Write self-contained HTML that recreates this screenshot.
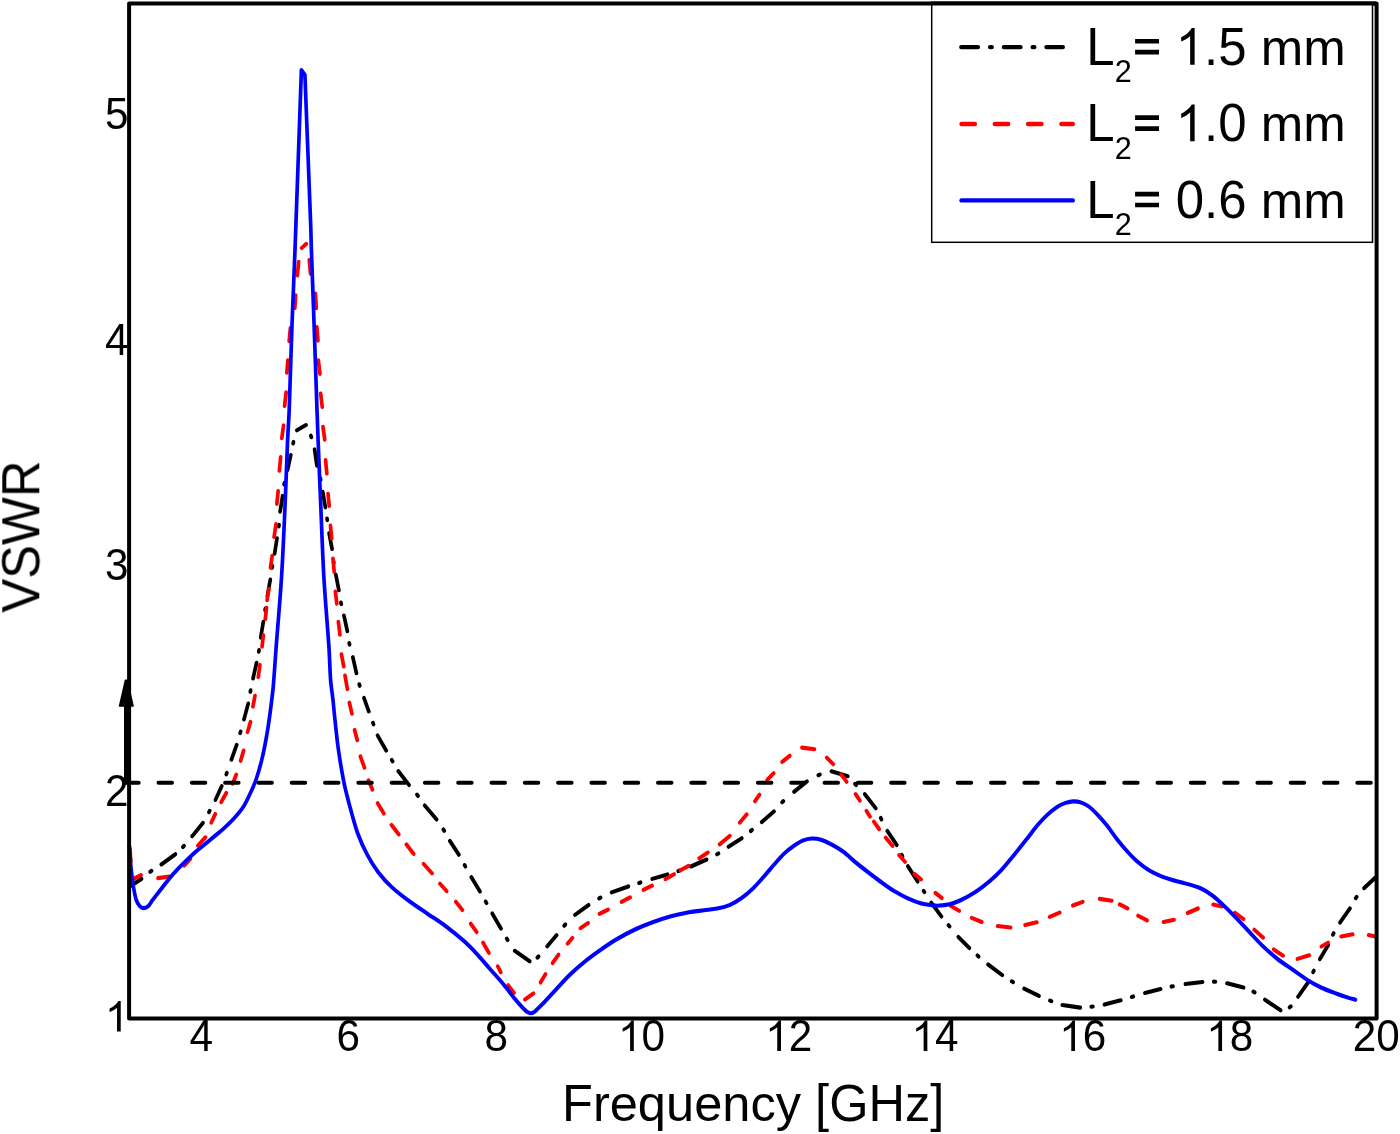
<!DOCTYPE html>
<html><head><meta charset="utf-8"><title>VSWR</title>
<style>
html,body{margin:0;padding:0;background:#fff}
body{width:1400px;height:1134px;overflow:hidden}
svg{display:block}
text{font-family:"Liberation Sans",sans-serif;fill:#000;font-kerning:none}
</style></head><body>
<svg width="1400" height="1134" viewBox="0 0 1400 1134">
<rect width="1400" height="1134" fill="#fff"/>
<g fill="none" stroke-linecap="round" stroke-linejoin="round" stroke-width="4.1">
<g transform="scale(0.9 1)">
<path stroke="#000" d="M143.81 886.72L157.19 878.88M166.95 871.77l1.44 -0.94M179.24 864.49L194.87 854.21M203.28 846.99l1.21 -1.17M213.51 836.25L225.49 822.85M232.13 812.2l0.85 -1.41M239.4 799.84L246.38 786.06M251.47 774.35l0.61 -1.5M257.12 759.71L262.99 744.79M266.87 733.07l0.49 -1.54M271.07 719.48L275.82 703.52M278.17 691.79l0.33 -1.57M281.16 678.47L285.07 662.83M287.52 651.69l0.29 -1.58M289.67 637.56L292.55 621.84M294.53 610.09l0.28 -1.58M297.12 595.97L300.32 579.53M302.41 567.69l0.29 -1.58M305.11 553.76L307.78 538.24M309.79 526.49l0.2 -1.59M311.22 511.66L314 495.94M315.72 484.39l0.33 -1.57M319.48 469.97L323.07 455.03M325.69 443.48l0.41 -1.56M329.92 430.25L339.96 425.05M345.38 435.64l0.57 1.52M349.55 449.44L352.12 465.76M355.91 478.32l0.39 1.56M358.57 491.74L361.55 507.36M363.43 518.51l0.25 1.58M365.69 533.33L368.98 548.97M370.65 561.21l0.25 1.58M373.14 574.63L376.53 590.27M378.83 602.52l0.35 1.57M382.15 615.53L385.96 631.17M388.04 643.02l0.37 1.57M392.04 657.13L396.07 673.27M399.18 684.24l0.52 1.53M404.46 697.89L409.77 711.41M414.36 722.85l0.6 1.51M419.55 735.52L429.11 750.58M435.33 760.01l0.9 1.38M442.61 771.06L454.5 785.04M463.35 794.66l1.08 1.27M471.85 805.43L485.04 819.47M492.64 829.52l0.93 1.36M499.91 840.99L509.86 854.71M516.24 865.1l0.86 1.4M523.67 877.11L533.21 891.49M539.68 901.6l0.87 1.39M547 913.52L556.67 928.58M563.09 938.72l0.92 1.37M571.91 950.8L588.53 961.3M597.11 957.53l1.33 -1.06M607.96 946.37L618.48 935.13M626.96 925.69l1.19 -1.19M638.91 914.89L653.98 905.01M665.67 898.39l1.56 -0.77M679.6 892.34L698.06 886.46M710.04 882.94l1.7 -0.48M724.71 878.87L741.73 874.43M753.6 871.06l1.68 -0.51M767.71 866.5L785.07 859.5M796.67 854.3l1.54 -0.8M809.47 846.82L824.19 838.18M834.2 831l1.38 -1.01M846.34 822.05L859.99 811.45M869.03 802.26l1.27 -1.12M882.35 791.77L896.65 781.43M909.29 775.21l1.64 -0.62M923.83 771.33L941.95 776.17M949.95 783.82l1.22 1.17M960.84 794.05L973.05 808.25M978.6 817.98l0.8 1.43M985.92 830.99L996.41 845.01M1001.92 854.89l0.82 1.42M1008.8 866.2L1019.65 881.5M1026.19 890.83l0.96 1.35M1034.83 902.67L1046.06 916.53M1053.88 925.18l1.14 1.23M1064.87 936.9L1077.02 948.1M1086 955.47l1.34 1.05M1097.91 964.51L1113.65 975.09M1124.13 981.28l1.51 0.85M1137.93 988.71L1154.4 995.89M1166.62 1000.61l1.65 0.59M1180.38 1005.06L1200.28 1007.64M1212.56 1006.7l1.76 -0.2M1227.16 1004.58L1245.28 1000.32M1257.48 996.93l1.7 -0.47M1272.16 992.99L1289.51 989.01M1301.57 986.56l1.74 -0.31M1317.16 984.05L1336.17 981.95M1348.67 981.66l1.78 0.09M1363.38 983.31L1381.73 987.59M1392.56 991.6l1.54 0.79M1405.47 999.69L1422.86 1010.31M1432.86 1007.4l1.39 -1M1442.26 996.72L1453.18 982.68M1459.05 972.11l0.8 -1.43M1466.45 959.19L1475.77 945.21M1481.04 934.61l0.82 -1.42M1488.93 922.52L1499.85 908.48M1506.38 898.16l1.01 -1.32M1515.66 888.13L1528.12 877.57"/>
<path stroke="#f00" d="M144.38 848.65L145.39 861.35M148.71 878.68L156.74 875.12M175.61 878.14L188.06 876.56M204.86 865.68L211.48 858.92M219.86 845.59L228.25 837.31M234.73 822.64L239.16 813.96M245.77 802.17L251.45 792.93M258.48 783.72L262.52 774.58M267.31 760.79L270.69 750.51M274.98 732.09L278.35 721.91M281.02 706.57L283.31 695.73M286.98 677.06L288.79 664.94M291.19 646.66L292.59 635.24M294.75 619.16L296.14 607.74M296.78 600.16L298.78 588.74M300.55 567.66L302.45 555.74M304.55 536.96L306.67 524.14M307.63 503.86L309.04 491.04M310.4 470.75L311.82 457.15M313.1 438.26L315.02 425.44M316.19 405.96L317.92 392.34M318.72 372.75L319.83 360.25M321.29 341.15L322.6 328.15M327.6 308.05L328.51 295.35M330.4 275.45L331.82 261.85M335.22 248.03L340.22 243.87M343.62 260.05L345.04 273.75M350.49 293.55L351.4 308.15M352.06 327.05L353.28 340.65M353.75 360.24L355.47 373.86M356.3 393.44L358.03 407.06M358.87 426.84L360.79 439.66M361.73 460.05L363.15 473.55M364.51 493.85L365.82 505.95M367.18 525.64L368.6 538.46M369.96 558.45L371.38 571.95M372.64 591.54L374.25 603.66M375.97 621.84L377.69 634.76M379.46 654.33L381.87 666.47M383.35 675.53L385.99 689.07M388.16 702.62L391.06 713.78M393.96 729.92L396.93 740.18M400.35 756.29L404.98 767.71M409.38 780.27L413.84 789.53M419.57 803.21L426.55 813.59M434.95 824.95L443.05 834.35M451.5 844.45L459.61 853.85M470.64 863.82L480.03 873.38M488.86 883.62L496.25 891.18M506.51 901.75L513.83 910.05M523.04 923.68L529.62 932.02M536.67 942.62L543.22 952.78M553.08 966.35L556.36 972.25M564.61 985.26L571.05 992.74M583.25 999.41L592.64 993.49M600.67 982.48L606.11 974.22M614.04 963.02L620.52 954.68M630.63 943.57L636.03 937.93M644.92 928.22L653.42 923.08M666.04 913.78L675.63 909.52M690.71 901.78L700.07 897.42M714.93 889.98L724.51 885.72M739.37 879.06L748.96 874.24M756.04 870.26L765.07 865.84M776.92 858.22L786.53 852.58M799.56 844.36L810.88 835.84M821.96 822.67L829.7 814.43M838.82 801.22L843.85 794.68M852.54 779.7L859.57 773.2M869.01 761.87L877.54 755.73M891.05 747.66L904.95 749.24M918.65 757.69L925.9 764.21M934.61 774.46L940.72 781.74M950.59 794.09L955.41 800.61M962.68 810.9L966.65 816.6M971.04 821.68L976.85 829.12M984.07 837.64L991.71 845.96M998.97 855.12L1005.59 861.88M1016.01 874.03L1023.43 879.37M1039.35 893.02L1046.43 897.98M1056.48 905.95L1065.74 910.75M1079.6 917.88L1090.84 922.02M1108.49 926.05L1122.84 927.45M1139.05 925.09L1151.95 922.31M1166.27 916.82L1177.4 912.68M1192.05 905.54L1203.06 901.86M1221.83 898.87L1235.28 900.73M1244.15 904.43L1252.85 908.47M1264.59 915.73L1274.52 920.47M1292.94 922.1L1304.51 919.8M1319.6 913.01L1331.07 908.49M1347.94 904.59L1357.73 906.41M1372.02 912.8L1381.76 919.1M1393.67 929.76L1403.44 937.64M1415.25 949.39L1425.64 955.71M1441.6 958.87L1454.73 955.33M1468.26 946.46L1475.63 942.74M1490.16 936.42L1503.06 934.28M1520.72 935.09L1528.06 936.41"/>
<path stroke="#00f" d="M143.67 845.3C144 849.22 144.93 862.02 145.67 868.8C146.29 874.55 147.17 880.83 148.11 886C148.96 890.64 150.15 896.45 151.33 899.8C152.14 902.09 153.83 904.72 155.22 906.1C156.33 907.21 158.07 908.1 159.67 908.1C161.26 908.1 163.41 907.23 164.78 906.1C166.46 904.72 168.05 901.86 169.78 899.8C172.11 897.02 175.8 892.85 178.78 889.4C181.74 885.97 184.7 882.33 187.67 879.1C190.52 875.98 193.48 872.94 196.56 870C199.74 866.95 203.37 863.77 206.78 860.8C210.13 857.88 213.61 854.9 217 852.2C220.29 849.58 223.73 847.13 227.11 844.6C230.72 841.9 235.19 838.6 238.67 836C241.78 833.67 245.03 831.47 248 829C251.69 825.93 256.96 821.42 260.78 817.6C264.41 813.97 267.98 810.23 270.89 806.1C273.85 801.9 276.22 796.98 278.56 792.4C280.86 787.88 283.14 783.32 284.89 778.6C287.02 772.87 289.49 764.94 291.33 758C293.26 750.73 294.96 742.65 296.44 735C297.92 727.4 299.09 719.75 300.22 712.1C301.41 704.1 302.7 695.39 303.56 687C304.67 676.05 305.75 659.93 306.89 646.4C308.43 628.17 311.17 600.53 312.78 577.6C314.39 554.68 315.43 531.73 316.56 508.8C317.68 485.87 318.76 456.47 319.56 440C320.04 430 320.91 420.01 321.33 410C322.15 390.83 323.37 351.67 324.44 325C325.45 300 326.75 275 327.78 250C329.52 207.5 334.89 70 334.89 70C334.89 70 338.78 74.7 338.78 74.7C338.78 74.7 344.02 195.78 345.22 225C345.57 233.33 345.69 241.67 346 250C346.63 266.67 348.03 300 349 325C350.04 351.67 351.48 390.83 352.22 410C352.61 420 353.01 430 353.44 440C354.17 456.47 355.48 485.87 356.56 508.8C357.63 531.73 358.41 554.68 359.89 577.6C361.37 600.53 364.2 629.33 365.44 646.4C366.26 657.59 366.57 671.07 367.33 680C367.9 686.69 369.3 694.27 370 700C370.59 704.79 370.98 709.61 371.56 714.4C372.54 722.53 374.1 737.37 375.89 748.8C377.69 760.27 379.98 772.88 382.33 783.2C384.44 792.46 387.46 802.3 390 810.7C392.32 818.38 394.59 826.33 397.56 833.6C400.45 840.69 403.94 847.8 407.78 854.3C411.53 860.66 415.89 867.07 420.56 872.6C425.09 877.97 430.28 882.91 435.78 887.5C441.5 892.28 448.33 896.92 454.89 901.3C461.48 905.7 468.54 909.7 475.33 913.9C482.12 918.09 489.09 922.05 495.67 926.5C502.39 931.05 509.93 936.58 515.67 941.2C520.74 945.28 525.47 949.72 530.11 954.2C534.93 958.85 539.74 964.15 544.56 969.1C549.36 974.04 554.52 979.05 559 983.9C563.3 988.56 568.41 994.8 571.44 998.2C573.3 1000.28 575.33 1002.4 577.22 1004.3C579.02 1006.11 581.24 1008.27 582.78 1009.6C583.91 1010.59 585.28 1011.68 586.44 1012.3C587.45 1012.83 588.67 1013.3 589.78 1013.3C590.89 1013.3 592.12 1012.86 593.11 1012.3C594.26 1011.65 595.51 1010.4 596.67 1009.4C598.56 1007.77 601.93 1004.87 604.44 1002.5C607.8 999.33 612.63 994.4 616.78 990.4C621.59 985.75 627.83 979.4 633.33 974.6C638.57 970.03 644.28 965.62 649.78 961.6C655.12 957.7 660.7 954.06 666.33 950.5C672.19 946.8 678.51 942.82 684.89 939.4C691.43 935.9 698.96 932.32 705.56 929.5C711.71 926.87 718.05 924.61 724.44 922.5C731.11 920.3 738.7 918 745.56 916.3C752.14 914.67 759.44 913.3 765.56 912.3C771.07 911.4 777.02 910.92 782.22 910.3C787.07 909.73 791.99 909.51 796.78 908.6C801.61 907.68 806.74 906.52 811.22 904.8C815.64 903.11 819.75 900.8 823.67 898.3C827.8 895.67 832.13 892.34 836 889C840.13 885.43 844.39 881.01 848.44 876.9C852.57 872.72 857 867.77 860.78 863.9C864.15 860.44 867.67 856.63 871.11 853.7C874.31 850.98 878 848.47 881.44 846.3C884.74 844.23 888.35 842 891.78 840.7C895.01 839.48 898.57 838.65 902 838.5C905.43 838.35 909.01 838.88 912.33 839.8C916.13 840.85 920.78 842.86 924.78 844.8C928.91 846.8 933.23 849.16 937.11 851.8C941.57 854.83 946.74 859.43 951.56 863C956.28 866.5 961.19 869.87 966 873.2C970.78 876.51 975.63 879.9 980.44 883C985.17 886.04 990.07 889.2 994.89 891.8C999.55 894.32 1004.52 896.65 1009.33 898.6C1014.03 900.5 1019.3 902.38 1023.78 903.5C1027.83 904.51 1033.24 904.93 1036.22 905.3C1038.03 905.52 1039.85 905.81 1041.67 905.7C1044.8 905.52 1050.83 905.07 1055 904.2C1059.02 903.36 1062.94 902.08 1066.67 900.5C1071.39 898.5 1078.03 895.34 1083.33 892.2C1088.89 888.92 1095.11 884.5 1100 880.8C1104.45 877.43 1108.73 873.85 1112.67 870C1117.43 865.35 1123.8 858.13 1128.56 852.9C1132.85 848.18 1137.26 843.13 1141.22 838.6C1144.96 834.32 1148.63 829.63 1152.33 825.7C1155.84 821.98 1159.74 818.13 1163.44 815C1166.92 812.06 1171.11 808.92 1174.56 806.9C1177.5 805.18 1181.13 803.82 1184.11 802.9C1186.79 802.08 1189.61 801.45 1192.44 801.4C1195.35 801.35 1198.7 801.77 1201.56 802.6C1204.41 803.43 1207.14 804.78 1209.56 806.4C1212.46 808.35 1216.03 811.51 1219 814.3C1222.43 817.52 1226.6 821.75 1230.11 825.7C1233.81 829.87 1237.35 834.89 1241.22 839.3C1245.2 843.83 1250.3 849.22 1254 852.9C1256.99 855.87 1260.06 858.8 1263.44 861.4C1267.15 864.25 1271.72 867.5 1276.22 870C1280.72 872.5 1286.22 874.78 1290.44 876.4C1294.03 877.77 1297.82 878.7 1301.56 879.7C1305.37 880.72 1309.43 881.48 1313.33 882.5C1318.63 883.88 1327.78 885.88 1333.33 888C1338.11 889.82 1342.5 892.43 1346.67 895.2C1351.11 898.15 1355.71 902.05 1360 905.7C1364.7 909.7 1370.19 914.82 1374.89 919.2C1379.4 923.41 1383.78 927.75 1388.22 932C1392.66 936.24 1396.89 940.66 1401.56 944.7C1406.76 949.2 1413.69 954.87 1419.44 959C1424.75 962.81 1430.56 966 1436.11 969.5C1441.67 973 1447.5 977 1452.78 980C1457.61 982.75 1462.61 985.3 1467.78 987.5C1473.06 989.75 1479.44 991.82 1484.44 993.5C1488.84 994.98 1494.19 996.57 1497.78 997.6C1500.49 998.38 1504.63 999.35 1506 999.7"/>
</g>
<path stroke="#000" stroke-width="4" stroke-dasharray="13.5 19.8" d="M125.2 782.8H1376"/>
</g>
<path d="M126.3 782.7V700" stroke="#000" stroke-width="4.6" fill="none"/>
<path d="M125.5 680.2H127.2L133 706H119.6Z" fill="#000" stroke="#000" stroke-width="1.6" stroke-linejoin="round"/>
<rect x="129.1" y="3.4" width="1247.5" height="1015" fill="none" stroke="#000" stroke-width="4" stroke-linejoin="round"/>
<rect x="931.7" y="4" width="440.8" height="238.3" fill="#fff" stroke="#000" stroke-width="1.5"/>
<path d="M931 3.4H1376" stroke="#000" stroke-width="4" fill="none"/>
<g fill="none" stroke-linecap="round" stroke-width="4.4">
<path stroke="#000" d="M961.3 47.1H1062.8" stroke-dasharray="16.6 12.2 1.6 12.2"/>
<path stroke="#f00" d="M961.5 124H1072.8" stroke-dasharray="13.4 19.9"/>
<path stroke="#00f" d="M961.5 200.4H1072.8"/>
</g>
<g style="will-change:opacity" opacity="0.999">
<text transform="translate(1086.3 64.75) translate(0 0) scale(1 1.0405)" font-size="51" xml:space="preserve">L</text>
<text transform="translate(1114.66 82.3) translate(0 0) scale(1 1.0405)" font-size="30.6" xml:space="preserve">2</text>
<path d="M1135.1 38.9h23.9v4.7h-23.9zM1135.1 49.85h23.9v4.7h-23.9z" fill="#000"/>
<path d="M1194.64 64.75L1190.15 64.75L1190.15 36.19Q1188.53 37.73 1185.91 39.27Q1183.28 40.82 1181.19 41.59L1181.19 37.26Q1184.95 35.49 1187.76 32.97Q1190.58 30.46 1191.75 28.09L1194.64 28.09Z" fill="#000"/>
<text transform="translate(1204 64.75) translate(0 0) scale(1 1)" font-size="51" xml:space="preserve">.</text>
<text transform="translate(1204 64.75) translate(14.17 0) scale(1 1.0405)" font-size="51" xml:space="preserve">5 </text>
<text transform="translate(1204 64.75) translate(56.7 0) scale(1 0.9815)" font-size="51" xml:space="preserve">mm</text>
<text transform="translate(1086.3 141.15) translate(0 0) scale(1 1.0405)" font-size="51" xml:space="preserve">L</text>
<text transform="translate(1114.66 158.7) translate(0 0) scale(1 1.0405)" font-size="30.6" xml:space="preserve">2</text>
<path d="M1135.1 115.3h23.9v4.7h-23.9zM1135.1 126.25h23.9v4.7h-23.9z" fill="#000"/>
<path d="M1194.64 141.15L1190.15 141.15L1190.15 112.59Q1188.53 114.13 1185.91 115.67Q1183.28 117.22 1181.19 117.99L1181.19 113.66Q1184.95 111.89 1187.76 109.37Q1190.58 106.86 1191.75 104.49L1194.64 104.49Z" fill="#000"/>
<text transform="translate(1204 141.15) translate(0 0) scale(1 1)" font-size="51" xml:space="preserve">.</text>
<text transform="translate(1204 141.15) translate(14.17 0) scale(1 1.0405)" font-size="51" xml:space="preserve">0 </text>
<text transform="translate(1204 141.15) translate(56.7 0) scale(1 0.9815)" font-size="51" xml:space="preserve">mm</text>
<text transform="translate(1086.3 217.55) translate(0 0) scale(1 1.0405)" font-size="51" xml:space="preserve">L</text>
<text transform="translate(1114.66 235.1) translate(0 0) scale(1 1.0405)" font-size="30.6" xml:space="preserve">2</text>
<path d="M1135.1 191.7h23.9v4.7h-23.9zM1135.1 202.65h23.9v4.7h-23.9z" fill="#000"/>
<text transform="translate(1175.63 217.55) translate(0 0) scale(1 1.0405)" font-size="51" xml:space="preserve">0</text>
<text transform="translate(1175.63 217.55) translate(28.36 0) scale(1 1)" font-size="51" xml:space="preserve">.</text>
<text transform="translate(1175.63 217.55) translate(42.53 0) scale(1 1.0405)" font-size="51" xml:space="preserve">6 </text>
<text transform="translate(1175.63 217.55) translate(85.07 0) scale(1 0.9815)" font-size="51" xml:space="preserve">mm</text>
<text transform="translate(189.52 1051) translate(0 0) scale(1 1.0405)" font-size="42.3" xml:space="preserve">4</text>
<text transform="translate(336.48 1051) translate(0 0) scale(1 1.0405)" font-size="42.3" xml:space="preserve">6</text>
<text transform="translate(484.45 1051) translate(0 0) scale(1 1.0405)" font-size="42.3" xml:space="preserve">8</text>
<path d="M633.81 1051L630.09 1051L630.09 1027.31Q628.75 1028.59 626.57 1029.87Q624.39 1031.15 622.66 1031.79L622.66 1028.2Q625.78 1026.73 628.11 1024.65Q630.44 1022.56 631.41 1020.6L633.81 1020.6Z" fill="#000"/>
<text transform="translate(641.58 1051) translate(0 0) scale(1 1.0405)" font-size="42.3" xml:space="preserve">0</text>
<path d="M780.98 1051L777.26 1051L777.26 1027.31Q775.91 1028.59 773.74 1029.87Q771.56 1031.15 769.82 1031.79L769.82 1028.2Q772.94 1026.73 775.27 1024.65Q777.61 1022.56 778.58 1020.6L780.98 1020.6Z" fill="#000"/>
<text transform="translate(788.74 1051) translate(0 0) scale(1 1.0405)" font-size="42.3" xml:space="preserve">2</text>
<path d="M927.34 1051L923.62 1051L923.62 1027.31Q922.28 1028.59 920.1 1029.87Q917.92 1031.15 916.19 1031.79L916.19 1028.2Q919.31 1026.73 921.64 1024.65Q923.97 1022.56 924.94 1020.6L927.34 1020.6Z" fill="#000"/>
<text transform="translate(935.11 1051) translate(0 0) scale(1 1.0405)" font-size="42.3" xml:space="preserve">4</text>
<path d="M1075 1051L1071.29 1051L1071.29 1027.31Q1069.94 1028.59 1067.77 1029.87Q1065.59 1031.15 1063.85 1031.79L1063.85 1028.2Q1066.97 1026.73 1069.3 1024.65Q1071.64 1022.56 1072.61 1020.6L1075 1020.6Z" fill="#000"/>
<text transform="translate(1082.77 1051) translate(0 0) scale(1 1.0405)" font-size="42.3" xml:space="preserve">6</text>
<path d="M1222.07 1051L1218.35 1051L1218.35 1027.31Q1217.01 1028.59 1214.83 1029.87Q1212.65 1031.15 1210.92 1031.79L1210.92 1028.2Q1214.03 1026.73 1216.37 1024.65Q1218.7 1022.56 1219.67 1020.6L1222.07 1020.6Z" fill="#000"/>
<text transform="translate(1229.84 1051) translate(0 0) scale(1 1.0405)" font-size="42.3" xml:space="preserve">8</text>
<text transform="translate(1352.77 1051) translate(0 0) scale(1 1.0405)" font-size="42.3" xml:space="preserve">2</text>
<text transform="translate(1376.3 1051) translate(0 0) scale(1 1.0405)" font-size="42.3" xml:space="preserve">0</text>
<path d="M120.73 1031.4L117.02 1031.4L117.02 1007.71Q115.67 1008.99 113.49 1010.27Q111.32 1011.55 109.58 1012.19L109.58 1008.6Q112.7 1007.13 115.03 1005.05Q117.37 1002.96 118.34 1001L120.73 1001Z" fill="#000"/>
<text transform="translate(104.97 805.84) translate(0 0) scale(1 1.0405)" font-size="42.3" xml:space="preserve">2</text>
<text transform="translate(104.97 580.29) translate(0 0) scale(1 1.0405)" font-size="42.3" xml:space="preserve">3</text>
<text transform="translate(104.97 354.73) translate(0 0) scale(1 1.0405)" font-size="42.3" xml:space="preserve">4</text>
<text transform="translate(104.97 129.18) translate(0 0) scale(1 1.0405)" font-size="42.3" xml:space="preserve">5</text>
<text transform="translate(753.2 1120.7) translate(-191.22 0) scale(1 1.0405)" font-size="50.6" xml:space="preserve">F</text>
<text transform="translate(753.2 1120.7) translate(-160.31 0) scale(1 0.9815)" font-size="50.6" xml:space="preserve">requency </text>
<text transform="translate(753.2 1120.7) translate(61.9 0) scale(1 1.0405)" font-size="50.6" xml:space="preserve">[GH</text>
<text transform="translate(753.2 1120.7) translate(151.86 0) scale(1 0.9815)" font-size="50.6" xml:space="preserve">z</text>
<text transform="translate(753.2 1120.7) translate(177.16 0) scale(1 1.0405)" font-size="50.6" xml:space="preserve">]</text>
<text transform="translate(39.2 536.5) rotate(-90) translate(-76.05 0) scale(1 1.0405)" font-size="50.7" xml:space="preserve">VSWR</text>
</g>
</svg>
</body></html>
